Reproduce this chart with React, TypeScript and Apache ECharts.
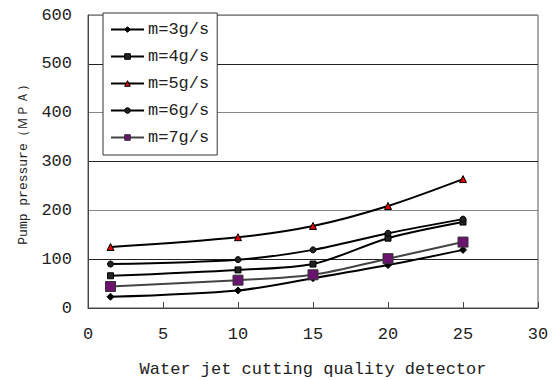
import React, { useEffect, useRef } from "react";
import * as echarts from "echarts";

const xValues = [1.5, 10, 15, 20, 25];
const seriesNames = ["m=3g/s", "m=4g/s", "m=5g/s", "m=6g/s", "m=7g/s"];
const m3 = [23, 36, 61, 88, 119];
const m4 = [66, 78, 90, 143, 176];
const m5 = [125, 145, 168, 209, 264];
const m6 = [90, 99, 119, 153, 182];
const m7 = [44, 57, 68, 101, 135];
const xTicks = [0, 5, 10, 15, 20, 25, 30];
const yTicks = [0, 100, 200, 300, 400, 500, 600];

const FONT = "'Liberation Mono', monospace";

export default function App() {
  const ref = useRef<HTMLDivElement>(null);
  useEffect(() => {
    document.body.style.margin = "0";
    if (!ref.current) return;
    const chart = echarts.init(ref.current, null, { renderer: "svg" });
    const pair = (arr: number[]) => xValues.map((x, i) => [x, arr[i]]);
    const styles = [
      { symbol: "diamond", size: 7, line: "#000", fill: "#000", border: "#000" },
      { symbol: "rect", size: 6, line: "#000", fill: "#222", border: "#000" },
      { symbol: "triangle", size: 7, line: "#000", fill: "#e00000", border: "#000" },
      { symbol: "circle", size: 6, line: "#000", fill: "#222", border: "#000" },
      { symbol: "rect", size: 10, line: "#444", fill: "#6a1470", border: "#333" },
    ];
    const allData = [m3, m4, m5, m6, m7];
    const series = seriesNames.map((name, i) => ({
      name,
      type: "line",
      data: pair(allData[i]),
      smooth: 0.3,
      symbol: styles[i].symbol,
      symbolSize: styles[i].size,
      showSymbol: true,
      lineStyle: { color: styles[i].line, width: 2 },
      itemStyle: { color: styles[i].fill, borderColor: styles[i].border, borderWidth: 1 },
      z: 3,
    }));
    chart.setOption({
      animation: false,
      backgroundColor: "#fff",
      grid: {
        left: 88,
        right: 21,
        top: 15,
        bottom: 72,
        show: true,
        borderColor: "#555",
        borderWidth: 1,
        outerBoundsMode: "none",
        containLabel: false,
      },
      legend: {
        left: 103,
        top: 13,
        orient: "vertical",
        backgroundColor: "#fff",
        borderColor: "#333",
        borderWidth: 1,
        padding: [8, 8, 9, 7],
        itemWidth: 33,
        itemHeight: 7,
        itemGap: 10,
        textStyle: { fontFamily: FONT, fontSize: 17, color: "#222", padding: [0, 0, 0, -1] },
        data: seriesNames.map((name, i) => ({
          name,
          itemStyle: { color: styles[i].fill, borderColor: styles[i].border, borderWidth: 1 },
          lineStyle: { color: styles[i].line, width: 2 },
        })),
      },
      xAxis: {
        type: "value",
        min: xTicks[0],
        max: xTicks[xTicks.length - 1],
        interval: 5,
        name: "Water jet cutting quality detector",
        nameLocation: "middle",
        nameGap: 53,
        nameTextStyle: { fontFamily: FONT, fontSize: 17, color: "#222" },
        axisLine: { lineStyle: { color: "#444", width: 1 } },
        axisTick: { inside: true, length: 6, lineStyle: { color: "#444" } },
        axisLabel: { fontFamily: FONT, fontSize: 17, color: "#222", margin: 18 },
        splitLine: { show: false },
      },
      yAxis: {
        type: "value",
        min: yTicks[0],
        max: yTicks[yTicks.length - 1],
        interval: 100,
        name: "Pump pressure（ＭＰＡ）",
        nameLocation: "middle",
        nameGap: 57,
        nameTextStyle: { fontFamily: FONT, fontSize: 13, color: "#222" },
        axisLine: { show: true, lineStyle: { color: "#444", width: 1 } },
        axisTick: { show: false },
        axisLabel: { fontFamily: FONT, fontSize: 17, color: "#222", margin: 16 },
        splitLine: { show: true, lineStyle: { color: ["#888", "#222"], width: 1 } },
      },
      series,
    });
    return () => chart.dispose();
  }, []);
  return <div ref={ref} style={{ width: 559, height: 380 }} />;
}
